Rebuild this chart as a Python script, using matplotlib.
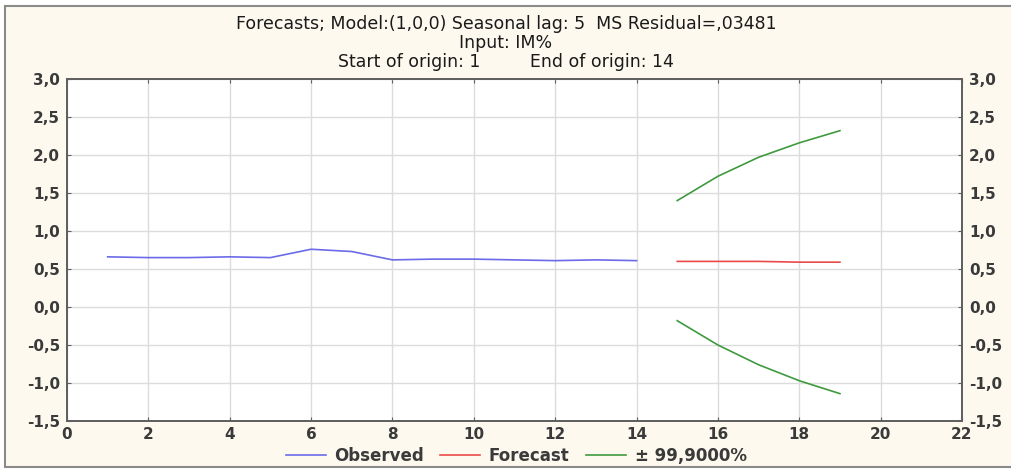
import matplotlib.pyplot as plt
from matplotlib.patches import Rectangle
from matplotlib.lines import Line2D
from matplotlib.ticker import FuncFormatter, MultipleLocator

plt.rcParams['font.family'] = ['DejaVu Sans']

obs_x = [1, 2, 3, 4, 5, 6, 7, 8, 9, 10, 11, 12, 13, 14]
observed = [0.66, 0.65, 0.65, 0.66, 0.65, 0.76, 0.73, 0.62, 0.63, 0.63, 0.62, 0.61, 0.62, 0.61]

fc_x = [15, 16, 17, 18, 19]
forecast = [0.60, 0.60, 0.60, 0.59, 0.59]
upper = [1.40, 1.72, 1.97, 2.16, 2.32]
lower = [-0.18, -0.50, -0.76, -0.97, -1.14]

title_lines = [
    "Forecasts; Model:(1,0,0) Seasonal lag: 5  MS Residual=,03481",
    "Input: IM%",
    "Start of origin: 1         End of origin: 14",
]

c_obs = '#6b6bea'
c_fc = '#ea4a4a'
c_ci = '#3f9a3f'
cream = '#fdf9ee'
text_c = '#3a3a3a'

fig = plt.figure(figsize=(10.12, 4.73), dpi=100)
fig.patch.set_facecolor('white')
frame = Rectangle((5 / 1012, 6 / 473), 1.0, 461 / 473, transform=fig.transFigure,
                  facecolor=cream, edgecolor='#8a8a8a', linewidth=1.5, zorder=-5)
fig.add_artist(frame)

ax = fig.add_axes([67 / 1012, 1 - 421 / 473, 895 / 1012, 342 / 473])
ax.set_facecolor('white')
ax.plot(obs_x, observed, color=c_obs, lw=1.2)
ax.plot(fc_x, forecast, color=c_fc, lw=1.2)
ax.plot(fc_x, upper, color=c_ci, lw=1.2)
ax.plot(fc_x, lower, color=c_ci, lw=1.2)

ax.set_xlim(0, 22)
ax.set_ylim(-1.5, 3.0)
ax.xaxis.set_major_locator(MultipleLocator(2))
ax.yaxis.set_major_locator(MultipleLocator(0.5))
ax.grid(True, color='#dcdcdc', lw=1)
ax.set_axisbelow(True)

fmt = FuncFormatter(lambda v, p: f"{v:.1f}".replace('.', ','))
ax.yaxis.set_major_formatter(fmt)

ax2 = ax.twinx()
ax2.set_ylim(ax.get_ylim())
ax2.yaxis.set_major_locator(MultipleLocator(0.5))
ax2.yaxis.set_major_formatter(fmt)

for a in (ax, ax2):
    for s in a.spines.values():
        s.set_color('#606060')
        s.set_linewidth(1.3)
    a.tick_params(axis='both', direction='in', length=3, color='#606060',
                  labelsize=11, labelcolor=text_c, pad=4)
    a.tick_params(axis='y', pad=5)
    for lbl in a.get_xticklabels() + a.get_yticklabels():
        lbl.set_fontweight('bold')
ax.tick_params(axis='x', top=True)

for i, line in enumerate(title_lines):
    fig.text(0.5, 1 - (24 + i * 19) / 473, line, ha='center', va='center',
             fontsize=12.5, color='#1a1a1a')

handles = [Line2D([], [], color=c_obs, lw=1.2),
           Line2D([], [], color=c_fc, lw=1.2),
           Line2D([], [], color=c_ci, lw=1.2)]
leg = fig.legend(handles, ['Observed', 'Forecast', '\u00b1 99,9000%'], loc='center',
                 bbox_to_anchor=(0.51, 1 - 456 / 473), ncol=3, frameon=False,
                 prop={'size': 12, 'weight': 'bold'},
                 handlelength=2.4, columnspacing=1.0, handletextpad=0.5)
for t in leg.get_texts():
    t.set_color(text_c)

fig.savefig('out.png', dpi=100, facecolor=fig.get_facecolor())
